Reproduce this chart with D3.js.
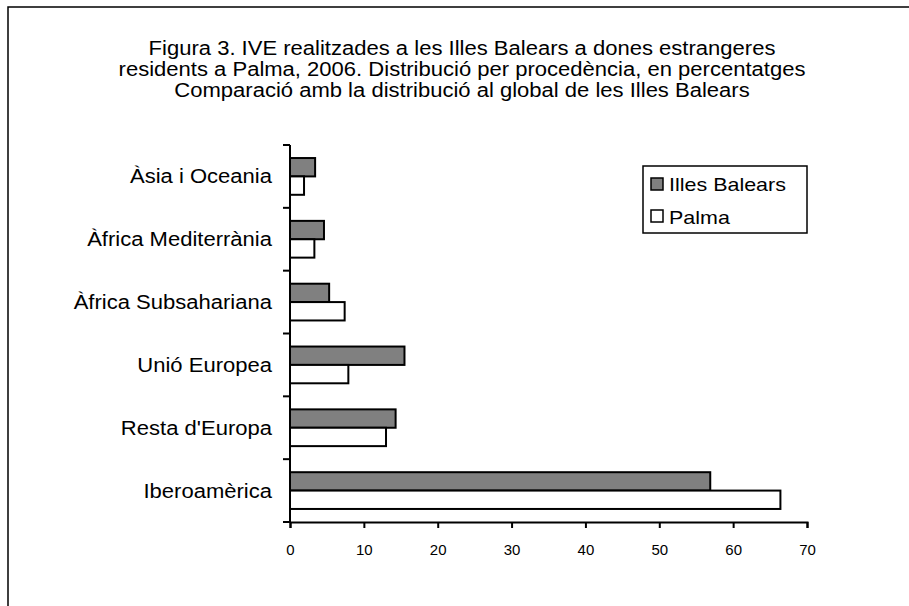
<!DOCTYPE html>
<html><head><meta charset="utf-8">
<script src="https://cdn.jsdelivr.net/npm/d3@7"></script>
<style>body{margin:0;background:#fff}svg{display:block}text{font-family:"Liberation Sans",Arial,sans-serif;fill:#000}</style>
</head><body>
<svg id="c" width="909" height="606"></svg>
<script>
const categories = ["Àsia i Oceania","Àfrica Mediterrània","Àfrica Subsahariana","Unió Europea","Resta d'Europa","Iberoamèrica"];
const seriesNames = ["Illes Balears","Palma"];
const illesBalears = [3.4, 4.6, 5.3, 15.5, 14.3, 56.9];
const palma = [1.9, 3.3, 7.4, 7.9, 13.0, 66.4];
const xTicks = [0,10,20,30,40,50,60,70];
const titleLines = ["Figura 3. IVE realitzades a les Illes Balears a dones estrangeres","residents a Palma, 2006. Distribució per procedència, en percentatges","Comparació amb la distribució al global de les Illes Balears"];
const colors = ["#808080","#ffffff"];

const SX = 1.13;
const svg = d3.select("#c");
svg.append("rect").attr("x",8).attr("y",7).attr("width",1000).attr("height",1000)
  .attr("fill","#fff").attr("stroke","#000").attr("stroke-width",1.5);

function stext(parent, px, py, str, size, anchor){
  return parent.append("text").attr("transform",`translate(${px},${py}) scale(${SX},1)`)
    .attr("text-anchor",anchor||"start").attr("font-size",size).text(str);
}

titleLines.forEach((t,i)=>stext(svg,462,55+i*21,t,"19.5px","middle"));

const x = d3.scaleLinear().domain([0,70]).range([290,807]);
const y = d3.scaleBand().domain(categories).range([145,522]).paddingInner(0.415).paddingOuter(0.2075);
const sub = d3.scaleBand().domain(seriesNames).range([0,y.bandwidth()]);

const data = categories.map((c,i)=>({c, vals:[illesBalears[i],palma[i]]}));
const g = svg.append("g");
data.forEach(d=>{
  d.vals.forEach((v,j)=>{
    g.append("rect").attr("x",x(0)).attr("y",y(d.c)+sub(seriesNames[j]))
      .attr("width",x(v)-x(0)).attr("height",sub.bandwidth())
      .attr("fill",colors[j]).attr("stroke","#000").attr("stroke-width",2);
  });
});

// x axis
const xa = svg.append("g").attr("transform","translate(0,522)")
  .call(d3.axisBottom(x).tickValues(xTicks).tickSize(6).tickPadding(16).tickSizeOuter(6));
xa.select(".domain").attr("stroke-width",2);
xa.selectAll(".tick line").attr("stroke-width",2);
xa.selectAll("text").attr("font-size","15px").attr("font-family","Liberation Sans, Arial, sans-serif");

// y axis: ticks between categories
const yBoundaries = d3.range(categories.length+1).map(i=>145+i*(377/categories.length));
const ya = svg.append("g");
ya.append("line").attr("x1",290).attr("x2",290).attr("y1",145).attr("y2",523).attr("stroke","#000").attr("stroke-width",2);
yBoundaries.forEach(b=>ya.append("line").attr("x1",283).attr("x2",290).attr("y1",b).attr("y2",b).attr("stroke","#000").attr("stroke-width",2));
categories.forEach(c=>stext(ya,272,y(c)+y.bandwidth()/2+7,c,"19.5px","end"));

// legend
const lg = svg.append("g");
lg.append("rect").attr("x",643).attr("y",166).attr("width",164).attr("height",67)
  .attr("fill","#fff").attr("stroke","#000").attr("stroke-width",1.5);
seriesNames.forEach((s,i)=>{
  lg.append("rect").attr("x",651).attr("y",178+i*32).attr("width",12).attr("height",12)
    .attr("fill",colors[i]).attr("stroke","#000").attr("stroke-width",1.5);
  stext(lg,669,191+i*33,s,"19px");
});
</script>
</body></html>
